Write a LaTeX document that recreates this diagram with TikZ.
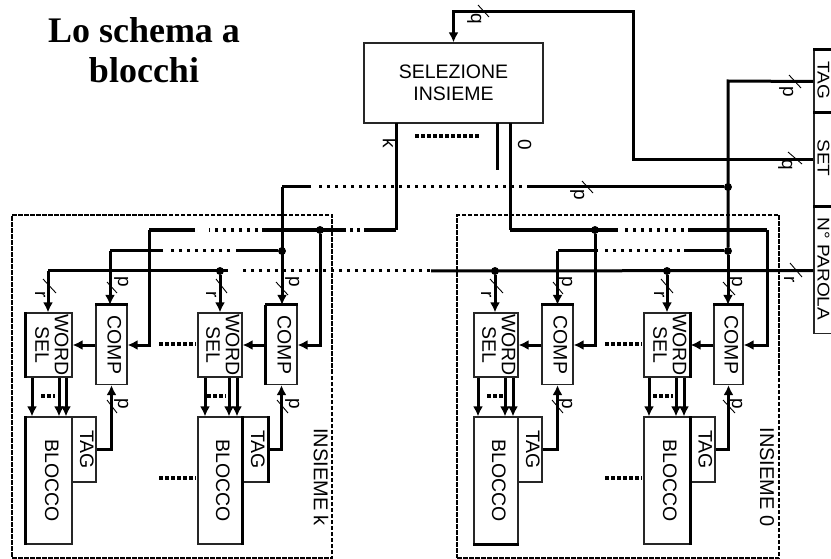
\documentclass[tikz,border=0pt]{standalone}
\usepackage{fontspec}
\setmainfont{Liberation Sans}
\newfontfamily\titlefont{Liberation Serif}
\usetikzlibrary{positioning,arrows.meta}
\newcommand{\vtext}[1]{\rotatebox{-90}{\begin{tabular}{@{}c@{}}#1\end{tabular}}}

\begin{document}
\begin{tikzpicture}[x=1pt,y=-1pt]
		\tikzset{box/.style = {draw=black!85,line width=1.2pt,inner sep=0pt,font=\fontsize{19.5}{19.5}\selectfont}}
		\tikzset{func/.style = {-{Latex[length=10pt,width=10pt]},line width=3pt}}
		\tikzset{wire/.style = {line width=3pt}}
		\tikzset{bus/.style = {line width=4.5pt}}
		\tikzset{edge/.style = {line width=3pt}}
		\tikzset{dots/.style = {line width=3pt,dash pattern=on 3pt off 5pt}}
		\tikzset{gapdots/.style = {line width=4pt,dash pattern=on 4pt off 2pt}}
		\tikzset{group/.style = {line width=2pt,dash pattern=on 4.5pt off 1.5pt}}
		\tikzset{tick/.style = {line width=0.9pt}}
		\tikzset{vertex/.style = {shape=circle,fill,inner sep=2.8pt}}
		\tikzset{lab/.style = {inner sep=0pt,font=\fontsize{19}{19}\selectfont}}
		\tikzset{reglab/.style = {inner sep=0pt,font=\fontsize{17}{17}\selectfont}}
		\useasboundingbox (0,0) rectangle (831,559);
		\clip (0,0) rectangle (831,559);

		% title
		\node[align=center,font=\titlefont\bfseries\fontsize{36}{40}\selectfont] (title) at (144,50){Lo schema a\\blocchi};

		% set frames
		\node[group,draw,minimum width=320,minimum height=343,inner sep=0pt] (framek) at (172,386.5){};
		\node[group,draw,minimum width=322,minimum height=343,inner sep=0pt] (frame0) at (618,386.5){};
		\node[lab,font=\fontsize{20}{20}\selectfont] (namek) at (318,477){\vtext{INSIEME k}};
		\node[lab,font=\fontsize{20}{20}\selectfont] (name0) at (764,477){\vtext{INSIEME 0}};

		% selector and address register
		\node[box,minimum width=179,minimum height=80,align=center] (sel) at (453.5,83){SELEZIONE\\[3pt]INSIEME};
		\node[box,minimum width=27,minimum height=63] (regtag) at (827.5,81.5){};
		\node[box,minimum width=27,minimum height=94] (regset) at (827.5,160){};
		\node[box,minimum width=27,minimum height=126] (regword) at (827.5,270.5){};
		\node[reglab] (regtagtext) at (821,80){\vtext{\scalebox{1.12}[1]{TAG}}};
		\node[reglab] (regsettext) at (821,158){\vtext{\scalebox{1.12}[1]{SET}}};
		\node[reglab] (regwordtext) at (821,269){\vtext{\scalebox{1.12}[1]{N° PAROLA}}};

		% blocks of set k
		\node[box,minimum width=46,minimum height=64] (wselk1) at (49,345){\vtext{WORD\\SEL}};
		\node[box,minimum width=31,minimum height=79] (compk1) at (111.5,345){\vtext{COMP}};
		\node[box,minimum width=46,minimum height=127] (blockk1) at (49,480.5){\vtext{BLOCCO}};
		\node[box,minimum width=24,minimum height=65] (tagk1) at (84,449.5){\vtext{TAG}};
		\node[box,minimum width=44,minimum height=64] (wselk2) at (220,345){\vtext{WORD\\SEL}};
		\node[box,minimum width=31,minimum height=79] (compk2) at (281.5,345){\vtext{COMP}};
		\node[box,minimum width=44,minimum height=127] (blockk2) at (220,480.5){\vtext{BLOCCO}};
		\node[box,minimum width=26,minimum height=65] (tagk2) at (255,449.5){\vtext{TAG}};

		% blocks of set 0
		\node[box,minimum width=44,minimum height=64] (wsel01) at (496,345){\vtext{WORD\\SEL}};
		\node[box,minimum width=31,minimum height=79] (comp01) at (557.5,345){\vtext{COMP}};
		\node[box,minimum width=44,minimum height=127] (block01) at (496,480.5){\vtext{BLOCCO}};
		\node[box,minimum width=24,minimum height=65] (tag01) at (530,449.5){\vtext{TAG}};
		\node[box,minimum width=46,minimum height=64] (wsel02) at (667,345){\vtext{WORD\\SEL}};
		\node[box,minimum width=29,minimum height=79] (comp02) at (728.5,345){\vtext{COMP}};
		\node[box,minimum width=46,minimum height=127] (block02) at (667,480.5){\vtext{BLOCCO}};
		\node[box,minimum width=25,minimum height=65] (tag02) at (702.5,449.5){\vtext{TAG}};

		% heavier box sides
		\draw[edge] (regtag.north west) -- (regtag.north east);
		\draw[edge] (regset.north west) -- (regset.north east);
		\draw[edge] (regword.north west) -- (regword.north east);
		\draw[edge] (wselk1.north west) -- (wselk1.south west);
		\draw[edge] (blockk1.north west) -- (blockk1.south west);
		\draw[edge] (compk1.north west) -- (compk1.north east);
		\draw[edge] (compk2.north west) -- (compk2.north east);
		\draw[edge] (compk2.north west) -- (compk2.south west);
		\draw[edge] (tagk2.north east) -- (tagk2.south east);
		\draw[edge] (blockk2.north east) -- (blockk2.south east);
		\draw[edge] (comp01.north west) -- (comp01.north east);
		\draw[edge] (block01.south west) -- (block01.south east);
		\draw[edge] (comp02.north west) -- (comp02.north east);
		\draw[edge] (wsel02.north east) -- (wsel02.south east);
		\draw[edge] (block02.north east) -- (block02.south east);

		% junctions
		\node[vertex] (jtag1) at (728,187){};
		\node[vertex] (jtag2) at (728,251){};
		\node[vertex] (jtag3) at (282,251){};
		\node[vertex] (jbus1) at (320,230){};
		\node[vertex] (jbus2) at (595,230){};
		\node[vertex] (jword1) at (220,271){};
		\node[vertex] (jword2) at (495,271){};
		\node[vertex] (jword3) at (667,271){};

		% free ends and corners
		\coordinate (qturn) at (633,12);
		\coordinate (tagturn) at (728,81);
		\coordinate (outk) at (396,123);
		\coordinate (outm) at (497,123);
		\coordinate (endm) at (497,170);
		\coordinate (out0) at (510,123);
		\coordinate (turnk) at (396,230);
		\coordinate (turn0) at (510,230);
		\coordinate (busk1) at (149,230);
		\coordinate (busk2) at (195,230);
		\coordinate (busk3) at (209,230);
		\coordinate (busk4) at (258,230);
		\coordinate (busk5) at (262,230);
		\coordinate (busk6) at (345,230);
		\coordinate (busk7) at (367,230);
		\coordinate (bus02) at (618,230);
		\coordinate (bus03) at (625,230);
		\coordinate (bus04) at (688,230);
		\coordinate (bus05) at (767,230);
		\coordinate (ptag1) at (282,187);
		\coordinate (ptag2) at (311,187);
		\coordinate (ptag3) at (316,187);
		\coordinate (ptag4) at (530,187);
		\coordinate (linek1) at (163,251);
		\coordinate (linek2) at (168,251);
		\coordinate (linek3) at (230,251);
		\coordinate (linek4) at (236,251);
		\coordinate (linek5) at (110,251);
		\coordinate (line01) at (557.5,251);
		\coordinate (line02) at (598,251);
		\coordinate (line03) at (602,251);
		\coordinate (line04) at (680,251);
		\coordinate (line05) at (684,251);
		\coordinate (wordk1) at (48,271);
		\coordinate (wordk2) at (228,271);
		\coordinate (wordk3) at (243,271);
		\coordinate (wordk4) at (430,271);
		\coordinate (wordk5) at (431,271);

		% edges register -> selector
		\draw[func] (regset.west) -| (qturn) -| (sel.north);
		\draw[wire] (regtag.west) -- (tagturn) -- (jtag2);
		\draw[func] (jtag2) -- (comp02.north -| jtag2);

		% edges selector -> buses
		\draw[wire] (outk) -- (turnk);
		\draw[wire] (outm) -- (endm);
		\draw[wire] (out0) -- (turn0);
		\draw[bus] (turnk) -- (busk7);
		\draw[gapdots,dash pattern=on 3pt off 4pt] (busk7) -- (busk6);
		\draw[bus] (busk6) -- (busk5);
		\draw[dots,line width=4pt] (busk4) -- (busk3);
		\draw[bus] (busk2) -- (busk1);
		\draw[bus] (turn0) -- (bus02);
		\draw[dots,line width=4pt] (bus03) -- (bus04);
		\draw[bus] (bus04) -- (bus05);

		% edges tag line
		\draw[wire] (jtag1) -- (ptag4);
		\draw[dots] (ptag4) -- (ptag3);
		\draw[wire] (ptag2) -- (ptag1);
		\draw[func] (ptag1) -- (compk2.north -| ptag1);
		\draw[wire] (jtag2) -- (line05);
		\draw[dots] (line04) -- (line03);
		\draw[wire] (line02) -- (line01);
		\draw[func] (line01) -- (comp01.north);
		\draw[wire] (jtag3) -- (linek4);
		\draw[dots] (linek3) -- (linek2);
		\draw[wire] (linek1) -- (linek5);
		\draw[func] (linek5) -- (compk1.north -| linek5);

		% edges word line
		\draw[wire] (regword.west) -- (wordk5);
		\draw[dots] (wordk4) -- (wordk3);
		\draw[wire] (wordk2) -- (wordk1);
		\draw[func] (wordk1) -- (wselk1.north -| wordk1);
		\draw[func] (jword1) -- (wselk2.north);
		\draw[func] (jword2) -- (wsel01.north -| jword2);
		\draw[func] (jword3) -- (wsel02.north);

		% edges set k
		\draw[func] (busk1) |- (compk1.east);
		\draw[func] (jbus1) |- (compk2.east);
		\draw[func] (compk1.west) -- (wselk1.east);
		\draw[func] (compk2.west) -- (wselk2.east);
		\draw[func] (tagk1.east) -| (compk1.south);
		\draw[func] (tagk2.east) -| (compk2.south);
		\draw[func] ([xshift=-17pt]wselk1.south) -- ([xshift=-17pt]blockk1.north);
		\draw[func] ([xshift=10pt]wselk1.south) -- ([xshift=10pt]blockk1.north);
		\draw[func] ([xshift=17pt]wselk1.south) -- ([xshift=17pt]blockk1.north);
		\draw[func] ([xshift=-15pt]wselk2.south) -- ([xshift=-15pt]blockk2.north);
		\draw[func] ([xshift=9pt]wselk2.south) -- ([xshift=9pt]blockk2.north);
		\draw[func] ([xshift=17pt]wselk2.south) -- ([xshift=17pt]blockk2.north);

		% edges set 0
		\draw[func] (jbus2) |- (comp01.east);
		\draw[func] (bus05) |- (comp02.east);
		\draw[func] (comp01.west) -- (wsel01.east);
		\draw[func] (comp02.west) -- (wsel02.east);
		\draw[func] (tag01.east) -| (comp01.south);
		\draw[func] (tag02.east) -| (comp02.south);
		\draw[func] ([xshift=-18pt]wsel01.south) -- ([xshift=-18pt]block01.north);
		\draw[func] ([xshift=9pt]wsel01.south) -- ([xshift=9pt]block01.north);
		\draw[func] ([xshift=17pt]wsel01.south) -- ([xshift=17pt]block01.north);
		\draw[func] ([xshift=-18pt]wsel02.south) -- ([xshift=-18pt]block02.north);
		\draw[func] ([xshift=9pt]wsel02.south) -- ([xshift=9pt]block02.north);
		\draw[func] ([xshift=17pt]wsel02.south) -- ([xshift=17pt]block02.north);

		% rows of dots between repeated parts
		\draw[gapdots] (415,136) -- (480,136);
		\draw[gapdots] (159,344) -- (196,344);
		\draw[gapdots] (159,478) -- (196,478);
		\draw[gapdots] (41,396) -- (55,396);
		\draw[gapdots] (207,396) -- (226,396);
		\draw[gapdots] (605,344) -- (642,344);
		\draw[gapdots] (605,478) -- (642,478);
		\draw[gapdots] (487,396) -- (503,396);
		\draw[gapdots] (653,396) -- (673,396);

		% bit marks
		\draw[tick] (478,5) -- (489,17);
		\draw[tick] (582,181) -- (593,193);
		\draw[tick] (789,75) -- (801,88);
		\draw[tick] (788,152) -- (802,164);
		\draw[tick] (790,263) -- (802,277);
		\draw[tick] (43,279) -- (56,293);
		\draw[tick] (107,282) -- (117,293);
		\draw[tick] (107,400) -- (117,413);
		\draw[tick] (216,279) -- (227,293);
		\draw[tick] (276,282) -- (288,295);
		\draw[tick] (277,400) -- (288,413);
		\draw[tick] (490,279) -- (503,293);
		\draw[tick] (553,282) -- (563,294);
		\draw[tick] (552,400) -- (563,413);
		\draw[tick] (661,279) -- (673,293);
		\draw[tick] (723,282) -- (735,295);
		\draw[tick] (723,400) -- (735,413);

		% bit labels
		\node[lab] (labq1) at (475,19){\vtext{q}};
		\node[lab] (labq2) at (786,165){\vtext{q}};
		\node[lab] (labp1) at (578,195){\vtext{p}};
		\node[lab] (labp2) at (787,92){\vtext{p}};
		\node[lab] (labr1) at (788,280){\vtext{r}};
		\node[lab] (labk) at (387,143){\vtext{k}};
		\node[lab] (lab0) at (522,145){\vtext{0}};
		\node[lab] (labr2) at (39,295){\vtext{r}};
		\node[lab] (labp3) at (122,282){\vtext{p}};
		\node[lab] (labp4) at (122,404){\vtext{p}};
		\node[lab] (labr3) at (210,295){\vtext{r}};
		\node[lab] (labp5) at (293,282){\vtext{p}};
		\node[lab] (labp6) at (293,404){\vtext{p}};
		\node[lab] (labr4) at (485,295){\vtext{r}};
		\node[lab] (labp7) at (566,282){\vtext{p}};
		\node[lab] (labp8) at (566,404){\vtext{p}};
		\node[lab] (labr5) at (658,295){\vtext{r}};
		\node[lab] (labp9) at (736,282){\vtext{p}};
		\node[lab] (labp10) at (736,404){\vtext{p}};
	\end{tikzpicture}
\end{document}
